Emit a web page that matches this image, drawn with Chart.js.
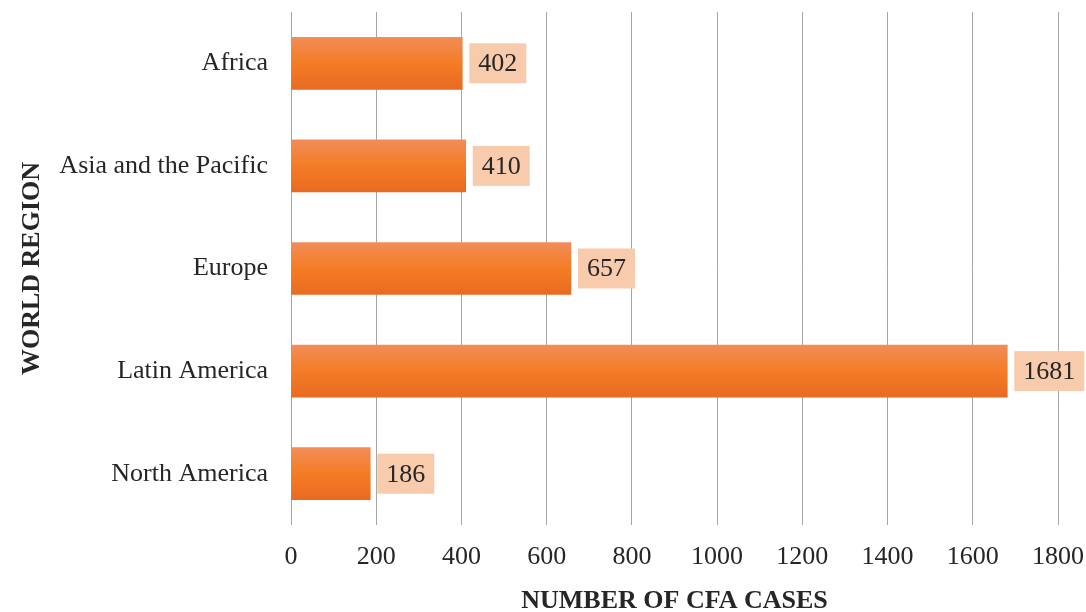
<!DOCTYPE html>
<html lang="en">
<head>
    <meta charset="UTF-8">
    <title>CFA cases by world region</title>
    <style>
        html, body { margin: 0; padding: 0; background: #fff; }
        #wrap { width: 1086px; height: 612px; }
    </style>
</head>
<body>
    <div id="wrap">
        <canvas id="myChart"></canvas>
    </div>

    <script src="https://cdn.jsdelivr.net/npm/chart.js"></script>

    <script>
        let regions = ['Africa', 'Asia and the Pacific', 'Europe', 'Latin America', 'North America'];
        let cases = [402, 410, 657, 1681, 186];
        let xTicks = [0, 200, 400, 600, 800, 1000, 1200, 1400, 1600, 1800];

        const serif = "'Liberation Serif', 'DejaVu Serif', serif";
        const barHalf = 26;

        // vertical orange gradient for each bar
        function barFill(context) {
            const chart = context.chart;
            const y = chart.scales && chart.scales.y;
            if (!chart.chartArea || !y) return '#F47B20';
            const yc = y.getPixelForValue(context.dataIndex);
            const g = chart.ctx.createLinearGradient(0, yc - barHalf, 0, yc + barHalf);
            g.addColorStop(0, '#F18D58');
            g.addColorStop(0.5, '#F47C25');
            g.addColorStop(1, '#E96A22');
            return g;
        }

        // value boxes to the right of the bars
        const valueBoxes = {
            id: 'valueBoxes',
            afterDatasetsDraw(chart) {
                const ctx = chart.ctx;
                const meta = chart.getDatasetMeta(0);
                ctx.save();
                ctx.font = '26px ' + serif;
                ctx.textBaseline = 'middle';
                meta.data.forEach((bar, i) => {
                    const text = String(cases[i]);
                    const w = ctx.measureText(text).width + 18;
                    const h = 40;
                    const x = bar.x + 7;
                    ctx.fillStyle = '#F8CBAD';
                    ctx.fillRect(x, bar.y - h / 2, w, h);
                    ctx.fillStyle = '#262626';
                    ctx.textAlign = 'center';
                    ctx.fillText(text, x + w / 2, bar.y + 1);
                });
                ctx.restore();
            }
        };

        const ctx = document.getElementById('myChart');

        new Chart(ctx, {
            type: 'bar',
            data: {
                labels: regions,
                datasets: [{
                    label: 'Number of CFA cases',
                    data: cases,
                    backgroundColor: barFill,
                    barThickness: 52,
                    borderWidth: 0
                }]
            },
            options: {
                indexAxis: 'y',
                responsive: true,
                maintainAspectRatio: false,
                animation: false,
                layout: { padding: { top: 12, right: 28, left: 17, bottom: 0 } },
                plugins: {
                    legend: { display: false },
                    tooltip: { enabled: false }
                },
                scales: {
                    x: {
                        min: 0,
                        max: 1800,
                        afterBuildTicks(axis) {
                            axis.ticks = xTicks.map(v => ({ value: v }));
                        },
                        afterFit(axis) {
                            axis.height = 87;
                            axis.paddingLeft = 0;
                            axis.paddingRight = 0;
                        },
                        grid: { color: '#A6A6A6', lineWidth: 1, drawTicks: false },
                        border: { display: false },
                        ticks: {
                            padding: 17,
                            color: '#262626',
                            font: { family: serif, size: 26 },
                            callback: v => String(v)
                        },
                        title: {
                            display: true,
                            text: 'NUMBER OF CFA CASES',
                            color: '#262626',
                            padding: { top: 0, bottom: -5 },
                            font: { family: serif, size: 26, weight: 'bold' }
                        }
                    },
                    y: {
                        afterFit(axis) {
                            axis.width = 291 - 17;
                            axis.paddingTop = 0;
                            axis.paddingBottom = 0;
                        },
                        grid: { display: false, drawTicks: false },
                        border: { display: false },
                        ticks: {
                            padding: 23,
                            color: '#262626',
                            font: { family: serif, size: 26 }
                        },
                        title: {
                            display: true,
                            text: 'WORLD REGION',
                            color: '#262626',
                            padding: { top: 0, bottom: 0 },
                            font: { family: serif, size: 26, weight: 'bold' }
                        }
                    }
                }
            },
            plugins: [valueBoxes]
        });
    </script>
</body>
</html>
